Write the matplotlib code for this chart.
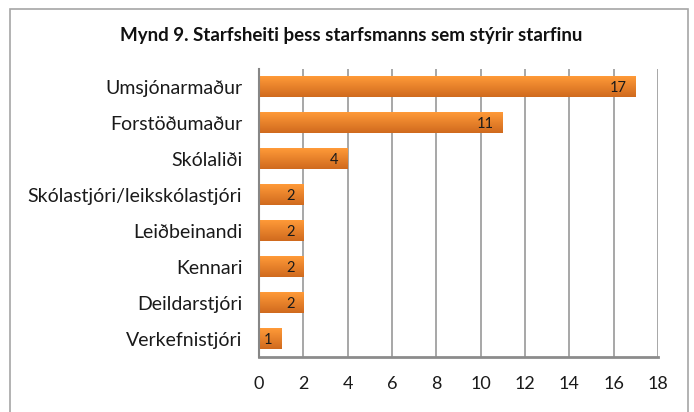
import numpy as np
import matplotlib
matplotlib.use("Agg")
import matplotlib.pyplot as plt
from matplotlib.patches import Rectangle
from matplotlib.colors import LinearSegmentedColormap

categories = ['Umsjónarmaður', 'Forstöðumaður', 'Skólaliði', 'Skólastjóri/leikskólastjóri',
              'Leiðbeinandi', 'Kennari', 'Deildarstjóri', 'Verkefnistjóri']
values = [17, 11, 4, 2, 2, 2, 2, 1]
xticks = [0, 2, 4, 6, 8, 10, 12, 14, 16, 18]
title = 'Mynd 9. Starfsheiti þess starfsmanns sem stýrir starfinu'

plt.rcParams['font.family'] = ['Lato', 'DejaVu Sans']

fig = plt.figure(figsize=(6.94, 4.12), dpi=100)
fig.patches.append(Rectangle((10 / 694, -0.05), 678 / 694, 1.05 - 9 / 412, transform=fig.transFigure,
                             fill=False, edgecolor='#A6A6A6', linewidth=1.2))
ax = fig.add_axes([259 / 694, 1 - 357 / 412, 399 / 694, 288 / 412])

grad = LinearSegmentedColormap.from_list('og', ['#FF9A38', '#D06A1E'])
ypos = np.arange(len(categories))
h = 0.56
bars = ax.barh(ypos, values, height=h, color='#F08A2C')
ramp = np.linspace(0, 1, 64).reshape(-1, 1)
for b, v in zip(bars, values):
    y0 = b.get_y()
    ax.imshow(ramp, cmap=grad, aspect='auto', extent=(0, v, y0 + h, y0), zorder=3)
    ax.text(v - 0.4, b.get_y() + h / 2 + 0.03, str(v), ha='right', va='center',
            fontsize=10.5, color='#1a1a1a', zorder=4)

ax.set_ylim(len(categories) - 0.5, -0.5)
ax.set_xlim(0, 18)
ax.set_xticks(xticks)
ax.set_yticks(ypos)
ax.set_yticklabels(categories, fontsize=14, color='#1a1a1a')
ax.tick_params(axis='x', labelsize=13, colors='#1a1a1a', length=0, pad=14)
ax.tick_params(axis='y', length=0, pad=12)
ax.grid(axis='x', color='#A0A0A0', linewidth=1.3, zorder=0)
ax.set_axisbelow(True)
for s in ['top', 'right']:
    ax.spines[s].set_visible(False)
ax.spines['left'].set_color('#868686')
ax.spines['left'].set_linewidth(1.5)
ax.spines['bottom'].set_color('#8C8C8C')
ax.spines['bottom'].set_linewidth(2)
ax.spines['left'].set_zorder(5)

fig.text(351 / 694, 1 - 36 / 412, title, ha='center', va='center', fontsize=13.5,
         fontweight='bold', color='#111111')

fig.savefig('out.png', dpi=100)
